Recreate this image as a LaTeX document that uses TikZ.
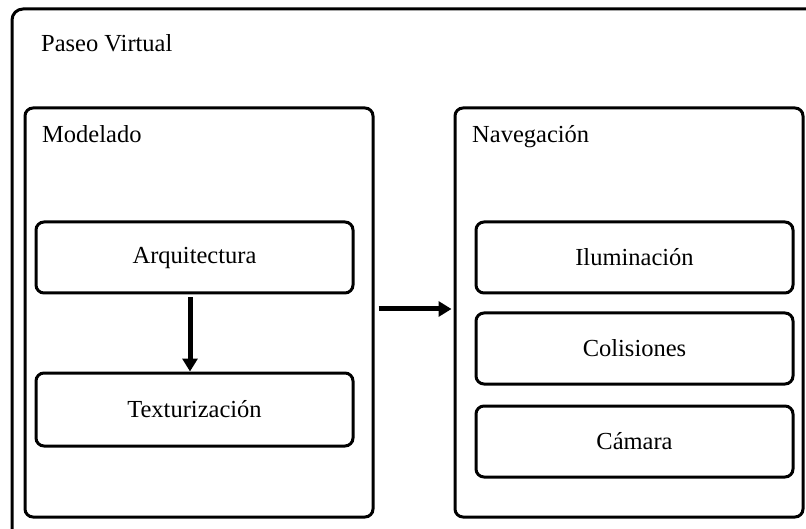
\documentclass[tikz,border=0pt]{standalone}
\usepackage{fontspec}
\setmainfont{Liberation Serif}
\usetikzlibrary{arrows.meta}
\tikzset{
  x=1pt, y=-1pt,
  box/.style={draw, line width=3pt, rounded corners=8pt, minimum width=#1, inner sep=0pt},
  box/.default=317pt,
  lbl/.style={font=\fontsize{24.5}{28}\selectfont, inner sep=0pt},
  thickarrow/.style={line width=5pt, -{Triangle[width=15pt,length=13pt]}}
}
\begin{document}
\begin{tikzpicture}
\useasboundingbox (0,0) rectangle (806,529);
\clip (0,0) rectangle (806,529);
\node[box=820pt, minimum height=540pt, rounded corners=11pt] (outer) at (422,279) {};
\node[lbl, anchor=base west] (tpaseo) at (41,52) {Paseo Virtual};
\node[box=348pt, minimum height=409pt] (mod) at (199,312.5) {};
\node[lbl, anchor=base west] (tmod) at (42,143) {Modelado};
\node[box=348pt, minimum height=409pt] (nav) at (629,312.5) {};
\node[lbl, anchor=base west] (tnav) at (472,143) {Navegación};
\node[box, minimum height=71pt, lbl] (arq) at (194.5,257.5) {Arquitectura};
\node[box, minimum height=73pt, lbl] (tex) at (194.5,409.5) {Texturización};
\node[box, minimum height=71pt, lbl] (ilu) at (634.5,257.5) {Iluminación};
\node[box, minimum height=71pt, lbl] (col) at (634.5,348.5) {Colisiones};
\node[box, minimum height=71pt, lbl] (cam) at (634.5,441.5) {Cámara};
\draw[thickarrow, shorten <=3pt] ([xshift=-4.5pt]arq.south) -- ([xshift=-4.5pt]tex.north);
\draw[thickarrow, shorten <=4pt, shorten >=2pt] ([yshift=3.5pt]mod.east) -- ([yshift=3.5pt]nav.west);
\end{tikzpicture}
\end{document}
